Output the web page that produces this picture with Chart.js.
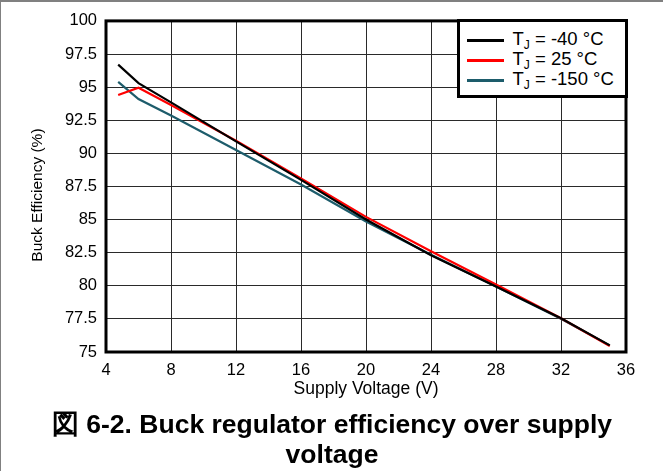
<!DOCTYPE html>
<html>
<head>
<meta charset="utf-8">
<script src="https://cdn.jsdelivr.net/npm/chart.js@4.4.1/dist/chart.umd.min.js"></script>
<style>
  html, body { margin: 0; padding: 0; background: #fff; }
  #page {
    position: relative;
    width: 662px; height: 469px;
    border-left: 1px solid #808080;
    border-top: 2px solid #808080;
    font-family: 'Liberation Sans', Arial, sans-serif;
    overflow: hidden;
  }
  #chartBox { position: absolute; left: 0; top: 0; width: 662px; height: 408px; }
  #legend {
    position: absolute;
    background: #fff;
    border: 3px solid #000;
    box-sizing: border-box;
    padding: 8px 6px 5px 7px;
    font-size: 18.5px;
    color: #000;
    white-space: nowrap;
  }
  #legend .row { display: flex; align-items: center; height: 20px; }
  #legend .swatch { width: 37px; height: 3px; margin-right: 9px; flex: none; }
  #legend sub { font-size: 12px; vertical-align: -4px; }
  #caption {
    position: absolute; left: 0; top: 407px; width: 662px;
    text-align: center;
    font-family: 'Liberation Sans', Arial, sans-serif;
    font-weight: bold; font-size: 26.5px; line-height: 30px;
  }
</style>
</head>
<body>
<div id="page">
  <div id="chartBox"><canvas id="effChart"></canvas></div>
  <div id="legend"></div>
  <div id="caption">図 6-2. Buck regulator efficiency over supply<br>voltage</div>
</div>
<script>
// supply voltage (V)
const voltages = [4.75, 6, 8, 12, 16, 20, 24, 28, 32, 35];
// efficiency (%) per junction temperature
const effMinus40 = [96.7, 95.3, 93.85, 90.9, 88.0, 85.0, 82.3, 79.95, 77.55, 75.5];
const eff25 = [94.4, 94.95, 93.65, 90.95, 88.1, 85.2, 82.6, 80.1, 77.55, 75.45];
const effMinus150 = [95.4, 94.1, 92.85, 90.25, 87.65, 84.85, 82.35, 79.95, 77.5, 75.5];

const seriesLabels = ['-40 °C', '25 °C', '-150 °C'];
const seriesColors = ['#000000', '#ff0000', '#1d5c6b'];
const seriesData = [effMinus40, eff25, effMinus150];

const xTicks = [4, 8, 12, 16, 20, 24, 28, 32, 36];
const yTicks = [75, 77.5, 80, 82.5, 85, 87.5, 90, 92.5, 95, 97.5, 100];

const datasets = seriesData.map((vals, i) => ({
  label: 'TJ = ' + seriesLabels[i],
  data: vals.map((v, k) => ({ x: voltages[k], y: v })),
  borderColor: seriesColors[i],
  borderWidth: 2.2,
  pointRadius: 0,
  fill: false,
  tension: 0
}));

// draw the closed frame around the plot area
const frame = {
  id: 'frame',
  afterDraw(chart) {
    const a = chart.chartArea;
    const c = chart.ctx;
    c.save();
    c.strokeStyle = '#000';
    c.lineWidth = 3;
    c.strokeRect(a.left, a.top, a.right - a.left, a.bottom - a.top);
    c.restore();
  }
};

const chart = new Chart(document.getElementById('effChart'), {
  type: 'line',
  data: { datasets },
  plugins: [frame],
  options: {
    responsive: true,
    maintainAspectRatio: false,
    animation: false,
    layout: { padding: { left: 0, right: 37, top: 18, bottom: 0 } },
    plugins: { legend: { display: false }, tooltip: { enabled: false } },
    scales: {
      x: {
        type: 'linear',
        min: 4, max: 36,
        afterBuildTicks: s => { s.ticks = xTicks.map(v => ({ value: v })); },
        afterFit: s => { s.height = 58; },
        grid: { color: '#2a2a2a', lineWidth: 1, drawTicks: false },
        border: { display: false },
        ticks: { color: '#000', padding: 9, font: { family: 'Liberation Sans', size: 16.5 } },
        title: {
          display: true, text: 'Supply Voltage (V)', color: '#000',
          font: { family: 'Liberation Sans', size: 17.5 }, padding: { top: 0, bottom: 10 }
        }
      },
      y: {
        min: 75, max: 100,
        afterBuildTicks: s => { s.ticks = yTicks.map(v => ({ value: v })); },
        afterFit: s => { s.width = 105; },
        grid: { color: '#2a2a2a', lineWidth: 1, drawTicks: false },
        border: { display: false },
        ticks: { color: '#000', padding: 9, font: { family: 'Liberation Sans', size: 16.5 } },
        title: {
          display: true, text: 'Buck Efficiency (%)    ', color: '#000',
          font: { family: 'Liberation Sans', size: 15.5 }, padding: { top: 27, bottom: 0 }
        }
      }
    }
  }
});

// legend box with subscript J, anchored to the top right corner of the plot
const legend = document.getElementById('legend');
seriesLabels.forEach((lab, i) => {
  const row = document.createElement('div');
  row.className = 'row';
  row.innerHTML = '<span class="swatch" style="background:' + seriesColors[i] + '"></span>' +
    '<span>T<sub>J</sub> = ' + lab + '</span>';
  legend.appendChild(row);
});
const area = chart.chartArea;
legend.style.width = '171px';
legend.style.left = (area.right - 171 + 1.5) + 'px';
legend.style.top = (area.top - 1.5) + 'px';
</script>
</body>
</html>
